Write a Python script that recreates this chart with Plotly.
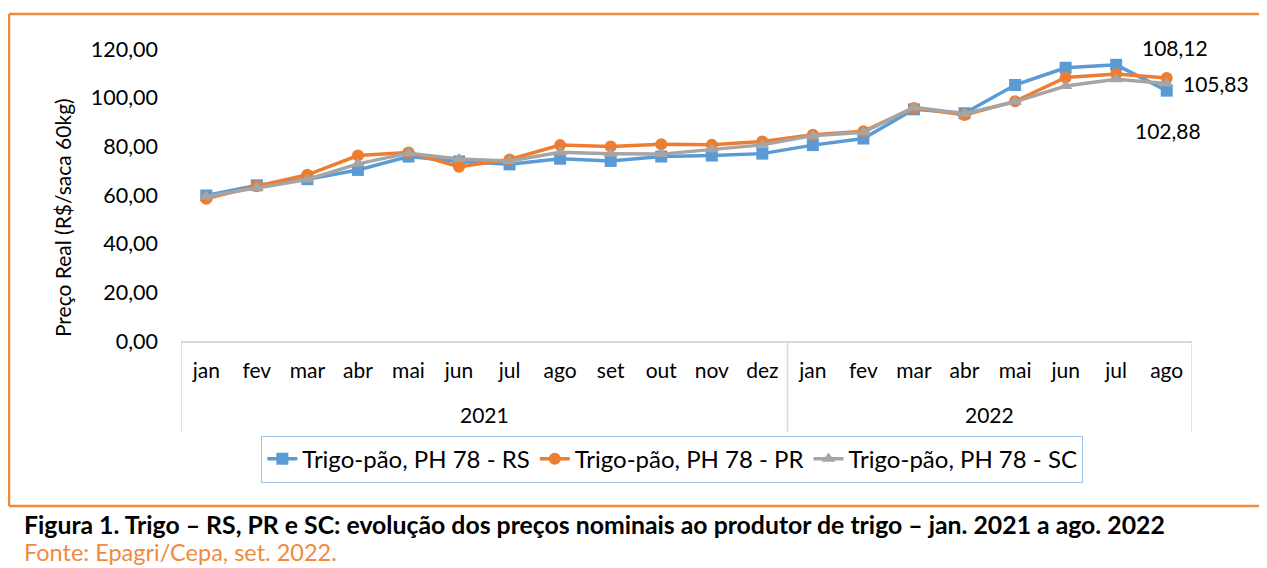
import plotly.graph_objects as go

years = ["2021"] * 12 + ["2022"] * 8
months = ["jan", "fev", "mar", "abr", "mai", "jun", "jul", "ago", "set", "out", "nov", "dez",
          "jan", "fev", "mar", "abr", "mai", "jun", "jul", "ago"]

rs = [59.8, 64.0, 66.5, 70.3, 75.8, 73.8, 72.6, 74.9, 74.0, 75.8, 76.2, 77.0,
      80.5, 83.2, 95.2, 93.6, 105.2, 112.3, 113.5, 102.88]
pr = [58.5, 63.6, 68.3, 76.2, 77.5, 71.6, 74.6, 80.5, 79.9, 80.9, 80.6, 82.0,
      84.8, 86.2, 95.8, 92.9, 98.5, 108.3, 109.7, 108.12]
sc = [59.4, 63.0, 66.4, 72.8, 77.2, 74.8, 74.0, 77.6, 77.0, 76.8, 78.8, 80.6,
      84.4, 85.8, 96.0, 93.4, 98.3, 104.8, 107.6, 105.83]

series = [
    ("Trigo-pão, PH 78 - RS", rs, "#5B9BD5", "square"),
    ("Trigo-pão, PH 78 - PR", pr, "#ED7D31", "circle"),
    ("Trigo-pão, PH 78 - SC", sc, "#A5A5A5", "triangle-up"),
]

FONT = "Lato"
idx = list(range(len(months)))
fig = go.Figure()
for name, vals, color, sym in series:
    fig.add_trace(go.Scatter(
        x=idx, y=vals, name=name, mode="lines+markers",
        line=dict(color=color, width=3.5),
        marker=dict(symbol=sym, size=12, color=color),
    ))

def fmt(v):
    return f"{v:.2f}".replace(".", ",")

last = idx[-1]
labels = [(pr[-1], 8, 30), (sc[-1], 49, 0), (rs[-1], 1, -40)]
for v, xs, ys in labels:
    fig.add_annotation(x=last, y=v, text=fmt(v), showarrow=False,
                       xshift=xs, yshift=ys, font=dict(size=21, color="#000000", family=FONT))

# year groups: labels and group box lines
axis_grey = "#D9D9D9"
groups = []
for i, y in enumerate(years):
    if not groups or groups[-1][0] != y:
        groups.append([y, i, i])
    else:
        groups[-1][2] = i
bounds = [groups[0][1] - 0.5] + [g[2] + 0.5 for g in groups]
for b in bounds:
    fig.add_shape(type="line", xref="x", yref="paper", x0=b, x1=b, y0=0, y1=-0.3116,
                  line=dict(color=axis_grey, width=1.5))
for y, a, b in groups:
    fig.add_annotation(x=(a + b) / 2, xref="x", yref="paper", y=-0.253, text=y, showarrow=False,
                       yanchor="middle", font=dict(size=21, color="#000000", family=FONT))

# y-axis title
fig.add_annotation(xref="paper", yref="paper", x=-0.1177, y=0.421, text="Preço Real (R$/saca 60kg)",
                   textangle=-90, showarrow=False, xanchor="center", yanchor="middle",
                   font=dict(size=21, color="#000000", family=FONT))

orange = "#F08A3C"
fx0, fy0, fy1 = -0.1701, 1.1199, -0.565
fig.add_shape(type="line", xref="paper", yref="paper", x0=fx0, x1=1.08, y0=fy0, y1=fy0,
              line=dict(color=orange, width=2.5))
fig.add_shape(type="line", xref="paper", yref="paper", x0=fx0, x1=fx0, y0=fy0, y1=fy1,
              line=dict(color=orange, width=2.5))
fig.add_shape(type="line", xref="paper", yref="paper", x0=fx0, x1=1.08, y0=fy1, y1=fy1,
              line=dict(color=orange, width=2.5))

fig.add_annotation(xref="paper", yref="paper", x=-0.1573, y=-0.628, xanchor="left", yanchor="middle",
                   text="<b>Figura 1. Trigo – RS, PR e SC: evolução dos preços nominais ao produtor de trigo – jan. 2021 a ago. 2022</b>",
                   showarrow=False, font=dict(size=24.8, color="#000000", family=FONT))
fig.add_annotation(xref="paper", yref="paper", x=-0.1573, y=-0.721, xanchor="left", yanchor="middle",
                   text="Fonte: Epagri/Cepa, set. 2022.",
                   showarrow=False, font=dict(size=23.5, color=orange, family=FONT))

fig.update_layout(
    width=1259, height=560,
    margin=dict(l=173, r=75, t=41, b=227, autoexpand=False),
    paper_bgcolor="white", plot_bgcolor="white",
    font=dict(family=FONT, size=21, color="#000000"),
    showlegend=True,
    legend=dict(orientation="h", x=0.486, y=-0.405, xanchor="center", yanchor="middle",
                bordercolor="#9DC3E6", borderwidth=1, font=dict(size=24, family=FONT),
                itemwidth=30, tracegroupgap=0),
    xaxis=dict(range=[-0.5, 19.5], tickvals=idx, ticktext=months,
               showline=True, linecolor=axis_grey, linewidth=1.5, zeroline=False,
               automargin=False, ticklabelstandoff=10,
               tickfont=dict(size=21, family=FONT), showgrid=False, ticks=""),
    yaxis=dict(range=[0, 120], tickvals=[0, 20, 40, 60, 80, 100, 120],
               ticktext=[fmt(v) for v in [0, 20, 40, 60, 80, 100, 120]],
               showgrid=False, showline=False, zeroline=False, ticks="", automargin=False,
               ticklabelstandoff=22,
               tickfont=dict(size=21.5, family=FONT)),
)

fig.write_html("out.html")
